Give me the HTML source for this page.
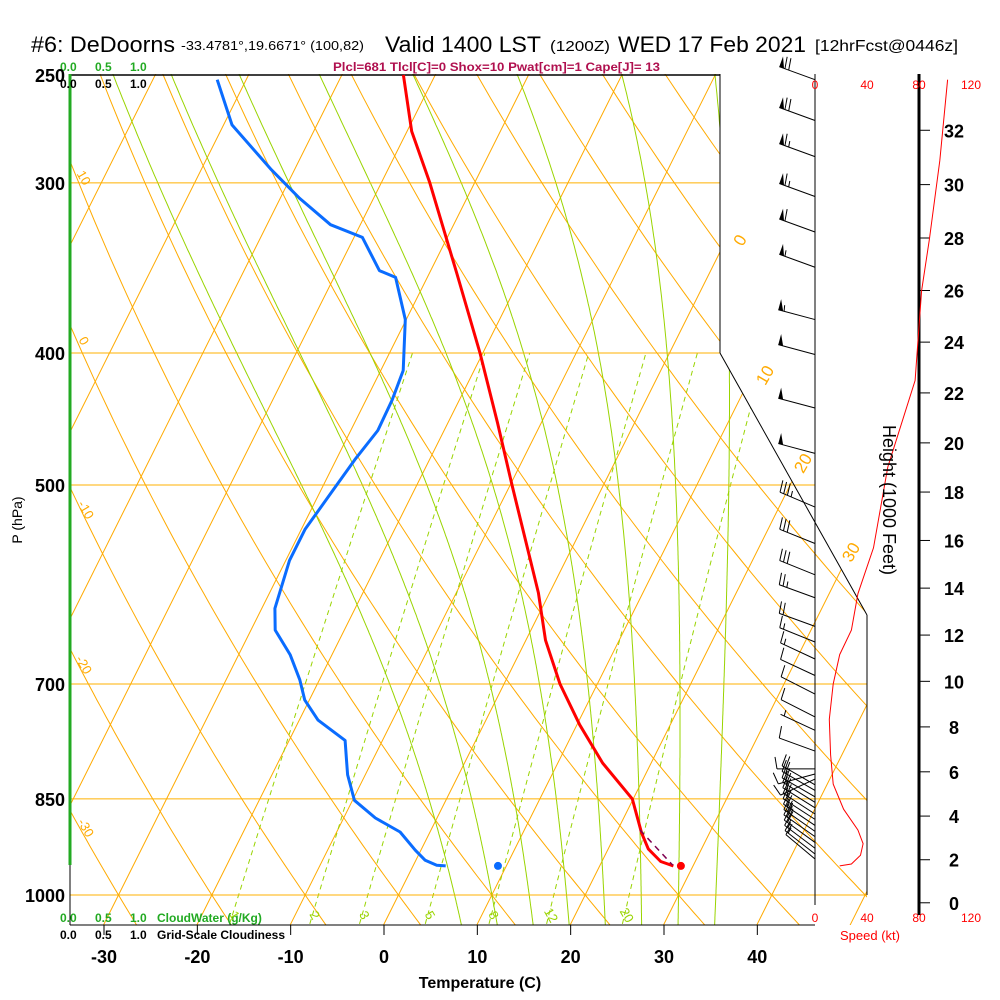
<!DOCTYPE html>
<html><head><meta charset="utf-8"><title>Skew-T DeDoorns</title>
<style>
html,body{margin:0;padding:0;background:#fff;}
svg{display:block;font-family:"Liberation Sans",Arial,sans-serif;}
</style></head>
<body>
<svg id="chart" width="1000" height="1000" viewBox="0 0 1000 1000" xmlns="http://www.w3.org/2000/svg">
<defs><clipPath id="plotclip"><polygon points="70,74 720,74 720,353 867,615 867,925 70,925"/></clipPath></defs>
<g id="grid" clip-path="url(#plotclip)"></g>
<g id="marks"></g>
<g id="texts">
<text x="31" y="52" font-size="22" textLength="144" lengthAdjust="spacingAndGlyphs">#6: DeDoorns</text>
<text x="181" y="50" font-size="13" textLength="183" lengthAdjust="spacingAndGlyphs">-33.4781°,19.6671° (100,82)</text>
<text x="385" y="52" font-size="22" textLength="156" lengthAdjust="spacingAndGlyphs">Valid 1400 LST</text>
<text x="550" y="51" font-size="15" textLength="60" lengthAdjust="spacingAndGlyphs">(1200Z)</text>
<text x="618" y="52" font-size="22" textLength="188" lengthAdjust="spacingAndGlyphs">WED 17 Feb 2021</text>
<text x="815" y="51" font-size="16" textLength="143" lengthAdjust="spacingAndGlyphs">[12hrFcst@0446z]</text>
<text x="333" y="71" font-size="12" font-weight="bold" fill="#b0104f" textLength="327" lengthAdjust="spacingAndGlyphs">Plcl=681 Tlcl[C]=0 Shox=10 Pwat[cm]=1 Cape[J]= 13</text>
<g font-size="12" font-weight="bold" fill="#22aa22"><text x="60" y="71">0.0</text><text x="95" y="71">0.5</text><text x="130" y="71">1.0</text></g>
<g font-size="12" font-weight="bold" fill="#000"><text x="60" y="88">0.0</text><text x="95" y="88">0.5</text><text x="130" y="88">1.0</text></g>
<g font-size="12" font-weight="bold" fill="#22aa22"><text x="60" y="922">0.0</text><text x="95" y="922">0.5</text><text x="130" y="922">1.0</text><text x="157" y="922">CloudWater (g/Kg)</text></g>
<g font-size="12" font-weight="bold" fill="#000"><text x="60" y="939">0.0</text><text x="95" y="939">0.5</text><text x="130" y="939">1.0</text><text x="157" y="939">Grid-Scale Cloudiness</text></g>
<text x="480" y="988" font-size="16" font-weight="bold" text-anchor="middle">Temperature (C)</text>
<text x="0" y="0" font-size="14" text-anchor="middle" transform="translate(22,520) rotate(-90)">P (hPa)</text>
<text x="0" y="0" font-size="18" text-anchor="middle" transform="translate(883,500) rotate(90)">Height (1000 Feet)</text>
<text x="870" y="940" font-size="13" fill="#ff0000" text-anchor="middle">Speed (kt)</text>
</g>
</svg>
<script>
// ---- data ----
const isobarLevels=[250,300,400,500,700,850,1000];
const tempTicks=[-30,-20,-10,0,10,20,30,40];
const heightTicks=[0,2,4,6,8,10,12,14,16,18,20,22,24,26,28,30,32];
const speedTicks=[0,40,80,120];
const mixRatios=[1,2,3,5,8,12,20];
const moistThetaW=[6,10,14,18,22,26,30,34];
const tPres=[250,275,300,350,400,450,500,550,600,650,700,750,800,850,900,925,945,952];
const tTemp=[-43.4,-39.5,-34.8,-27.0,-20.3,-14.7,-9.8,-5.3,-1.2,2.1,6.0,10.3,14.8,19.9,22.7,24.3,26.3,27.9];
const dPres=[252,272,293,308,322,329,348,352,378,412,433,456,479,508,539,568,616,639,666,695,719,744,770,796,816,852,878,899,927,943,951,952];
const dTemp=[-63.1,-59.1,-52.6,-47.9,-43.2,-39.1,-35.5,-33.4,-30.1,-27.6,-27.2,-27.1,-28.0,-28.8,-29.6,-29.6,-28.6,-27.4,-24.5,-22.1,-20.5,-18.0,-14.0,-12.8,-11.9,-9.8,-6.6,-3.2,-0.6,1.0,2.5,3.5];
const parcelPres=[896,951];
const parcelTemp=[22.4,27.8];
const sfcPres=952, sfcTemp=28.7, sfcDew=9.1;
const spdPres=[252,289,330,360,419,485,556,601,639,666,700,743,789,829,865,896,917,935,949,952];
const spdVal=[102,96,88,82,77,56,45,33,28,19,14,11,12,14,22,33,37,35,28,19];
const barbPres=[252,270,287,307,326,346,378,401,439,474,519,552,582,605,635,652,671,690,712,740,757,784,808,815,822,830,838,847,855,863,872,880,889,898,906,915,924,933,941];
const barbDir=[290,290,290,290,290,290,285,285,285,285,293,292,292,290,290,292,295,295,297,297,295,290,270,255,245,300,300,300,302,302,303,303,304,305,305,306,307,308,310];
const barbSpd=[70,70,65,65,60,55,55,50,50,50,35,30,30,25,20,15,15,10,10,10,5,10,10,10,10,20,20,20,20,20,20,20,25,25,20,20,15,15,10];

// ---- scales ----
const NS="http://www.w3.org/2000/svg";
function Y(p){return 75+820*Math.log(p/250)/Math.log(4);}
function X(T,p){return 384+9.333*T+0.5*(924-Y(p));}
function SX(kt){return 815+kt*1.3;}
function mk(tag,attrs,parent){const e=document.createElementNS(NS,tag);for(const k in attrs)e.setAttribute(k,attrs[k]);parent.appendChild(e);return e;}
const grid=document.getElementById('grid'), marks=document.getElementById('marks'), texts=document.getElementById('texts');
function pathFrom(pts){return 'M'+pts.map(p=>p[0].toFixed(1)+','+p[1].toFixed(1)).join('L');}

// isotherms
for(let T=-130;T<=60;T+=10){
  const l=mk('line',{x1:X(T,1060),y1:Y(1060),x2:X(T,240),y2:Y(240),stroke:'#ffaa00','stroke-width':1},grid);
  
  
}
// dry adiabats
for(let th=-40;th<=200;th+=10){
  const pts=[];for(let p=1060;p>=240;p-=10){pts.push([X((th+273.15)*Math.pow(p/1000,0.2857)-273.15,p),Y(p)]);}
  const e=mk('path',{d:pathFrom(pts),fill:'none',stroke:'#ffaa00','stroke-width':1},grid);
  
  
}
// moist adiabats
function es(Tc){return 6.112*Math.exp(17.67*Tc/(Tc+243.5));}
const Rd=287,cp=1005,Lv=2.5e6,eps=0.622;
function grad(T,p){const e=es(T-273.15);const rs=eps*e/(p-e);return (Rd*T+Lv*rs)/(cp+Lv*Lv*rs*eps/(Rd*T*T))/p;}
for(const tw of moistThetaW){
  let Tb=tw+273.15; for(let q=1000;q<1060;q+=2){Tb+=grad(Tb,q)*2;}
  let p=1060,T=Tb; const pts=[];
  while(p>=240){pts.push([X(T-273.15,p),Y(p)]);T-=grad(T,p)*2;p-=2;}
  const e=mk('path',{d:pathFrom(pts),fill:'none',stroke:'#99d400','stroke-width':1},grid);
  
  
}
// mixing ratio lines
for(const w of mixRatios){
  const pts=[];for(let p=1050;p>=400;p-=10){const e=(w/1000)*p/(0.622+w/1000);const a=Math.log(e/6.112);const Tc=243.5*a/(17.67-a);pts.push([X(Tc,p),Y(p)]);}
  const e=mk('path',{d:pathFrom(pts),fill:'none',stroke:'#99d400','stroke-width':1,'stroke-dasharray':'5,4'},grid);
  
  
  const lp=1035,ex=(w/1000)*lp/(0.622+w/1000),a=Math.log(ex/6.112),Tc=243.5*a/(17.67-a);
  const t=mk('text',{x:X(Tc,lp)+2,y:Y(lp)+4,'font-size':13,fill:'#99d400','text-anchor':'middle',transform:'rotate(60 '+(X(Tc,lp)+2)+' '+Y(lp)+')'},texts);
  t.textContent=String(w);
  
  
}
// isobars
for(const p of isobarLevels){
  const y=Y(p);
  const xr=p<=400?720:(p===500?815:867);
  const col=p===250?'#000':'#ffb000';
  const l=mk('line',{x1:70,y1:y,x2:xr,y2:y,stroke:col,'stroke-width':p===250?1.5:1},marks);
  
  
  const t=mk('text',{x:65,y:y+7,'font-size':18,'font-weight':'bold','text-anchor':'end',fill:'#000'},texts);
  t.textContent=String(p);
  
  
}
// frame lines
[[720,74,720,353],[720,353,867,615],[867,615,867,895],[70,925,815,925],[815,74,815,905]].forEach(function(s){
  const l=mk('line',{x1:s[0],y1:s[1],x2:s[2],y2:s[3],stroke:'#000','stroke-width':1},marks);
  
  
});
const cw=mk('line',{x1:70,y1:74,x2:70,y2:865,stroke:'#22aa22','stroke-width':3},marks);


const lf=mk('line',{x1:70,y1:865,x2:70,y2:925,stroke:'#000','stroke-width':1},marks);


// temp ticks
for(const T of tempTicks){
  const x=384+9.333*T;
  const l=mk('line',{x1:x,y1:925,x2:x,y2:935,stroke:'#000','stroke-width':1},marks);
  
  
  const t=mk('text',{x:x,y:963,'font-size':18,'font-weight':'bold','text-anchor':'middle'},texts);
  t.textContent=String(T);
  
  
}
// isotherm and theta labels
[[0,745,243],[10,770,378],[20,808,466],[30,856,555]].forEach(function(a){
  const t=mk('text',{x:a[1],y:a[2],'font-size':17,fill:'#ffaa00','text-anchor':'middle',transform:'rotate(-60 '+a[1]+' '+a[2]+')'},texts);
  t.textContent=String(a[0]);
  
  
});
[[10,80,180],[0,80,343],[-10,82,512],[-20,80,667],[-30,82,830]].forEach(function(a){
  const t=mk('text',{x:a[1],y:a[2],'font-size':13,fill:'#ffaa00','text-anchor':'middle',transform:'rotate(60 '+a[1]+' '+a[2]+')'},texts);
  t.textContent=String(a[0]);
  
  
});
// height axis
const ha=mk('line',{x1:919,y1:74,x2:919,y2:915,stroke:'#000','stroke-width':3},marks);


for(const h of heightTicks){
  const p=1013.25*Math.pow(1-2.25577e-5*h*304.8,5.25588);
  const y=Y(p);
  const l=mk('line',{x1:919,y1:y,x2:930,y2:y,stroke:'#000','stroke-width':1},marks);
  
  
  const t=mk('text',{x:954,y:y+7,'font-size':18,'font-weight':'bold','text-anchor':'middle'},texts);
  t.textContent=String(h);
  
  
}
// speed labels
for(const s of speedTicks){
  const a=mk('text',{x:SX(s),y:89,'font-size':12,fill:'#ff0000','text-anchor':'middle'},texts);
  a.textContent=String(s);
  
  
  const b=mk('text',{x:SX(s),y:922,'font-size':12,fill:'#ff0000','text-anchor':'middle'},texts);
  b.textContent=String(s);
  
  
}
// profiles
const tl=mk('path',{d:pathFrom(tPres.map((p,i)=>[X(tTemp[i],p),Y(p)])),fill:'none',stroke:'#ff0000','stroke-width':3,'stroke-linejoin':'round'},marks);


const dl=mk('path',{d:pathFrom(dPres.map((p,i)=>[X(dTemp[i],p),Y(p)])),fill:'none',stroke:'#0a6cff','stroke-width':3,'stroke-linejoin':'round'},marks);


const pl=mk('path',{d:pathFrom(parcelPres.map((p,i)=>[X(parcelTemp[i],p),Y(p)])),fill:'none',stroke:'#800050','stroke-width':1.5,'stroke-dasharray':'6,5'},marks);


const sd=mk('circle',{cx:X(sfcTemp,sfcPres),cy:Y(sfcPres),r:4,fill:'#ff0000'},marks);


const bd=mk('circle',{cx:X(sfcDew,sfcPres),cy:Y(sfcPres),r:4,fill:'#0a6cff'},marks);


const sp=mk('path',{d:pathFrom(spdPres.map((p,i)=>[SX(spdVal[i]),Y(p)])),fill:'none',stroke:'#ff0000','stroke-width':1},marks);


// wind barbs
barbPres.forEach(function(p,i){
  const g=mk('g',{},marks);
  
  
  const bx=815,by=Y(p),L=38,r=barbDir[i]*Math.PI/180;
  const dx=Math.sin(r),dy=-Math.cos(r);
  const tx=bx+dx*L,ty=by+dy*L;
  mk('line',{x1:bx,y1:by,x2:tx,y2:ty,stroke:'#000','stroke-width':1},g);
  let nx=-dy,ny=dx; if(ny>0){nx=-nx;ny=-ny;}
  let s=barbSpd[i],pos=0;const step=4;
  while(s>=50){const ax=tx-dx*pos,ay=ty-dy*pos,cx=tx-dx*(pos+5),cy=ty-dy*(pos+5);
    mk('polygon',{points:ax+','+ay+' '+(ax+nx*11)+','+(ay+ny*11)+' '+cx+','+cy,fill:'#000'},g);pos+=6;s-=50;}
  while(s>=10){const ax=tx-dx*pos,ay=ty-dy*pos;mk('line',{x1:ax,y1:ay,x2:ax+nx*12+dx*2,y2:ay+ny*12+dy*2,stroke:'#000','stroke-width':1},g);pos+=step;s-=10;}
  if(s>=5){if(pos===0)pos=step;const ax=tx-dx*pos,ay=ty-dy*pos;mk('line',{x1:ax,y1:ay,x2:ax+nx*6+dx,y2:ay+ny*6+dy,stroke:'#000','stroke-width':1},g);}
});
</script>
</body></html>
